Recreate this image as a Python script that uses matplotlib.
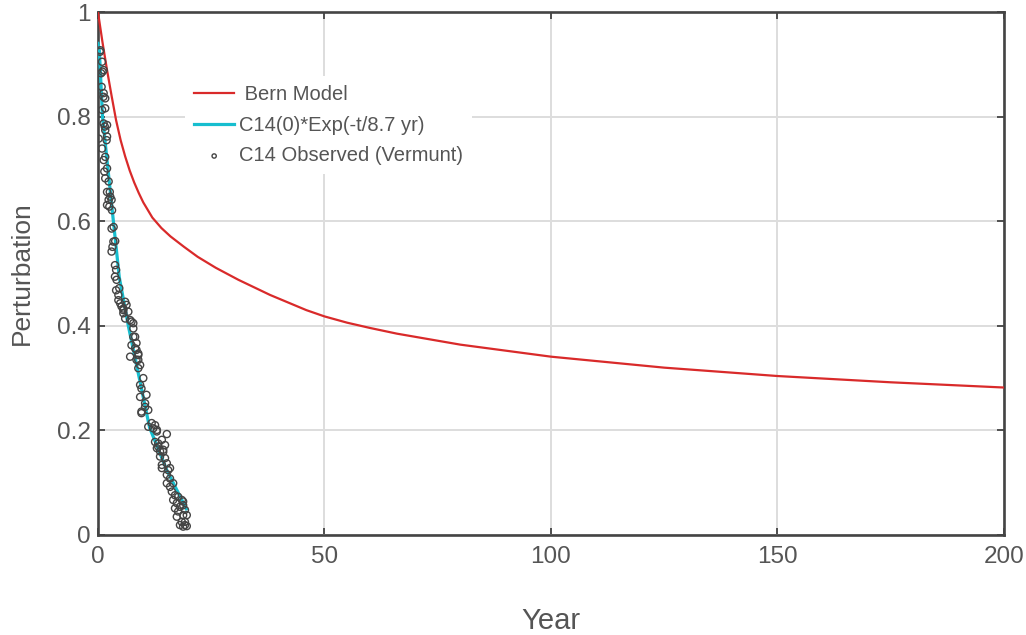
import matplotlib
matplotlib.use("Agg")
import matplotlib.pyplot as plt

plt.rcParams['font.family'] = ['Liberation Sans', 'DejaVu Sans']

# Bern model curve
bern_t = [0, 1, 2, 3, 4, 5, 6, 7, 8, 9, 10, 12, 14, 16, 19, 22, 26, 31, 38, 46, 50,
          55, 60, 66, 80, 100, 125, 150, 175, 200]
bern_v = [1.0, 0.942, 0.889, 0.840, 0.793, 0.755, 0.724, 0.697, 0.674, 0.654, 0.636,
          0.607, 0.587, 0.571, 0.551, 0.532, 0.511, 0.488, 0.459, 0.430, 0.418,
          0.406, 0.396, 0.385, 0.364, 0.341, 0.320, 0.304, 0.292, 0.282]

# exponential fit line
fit_t = [0, 0.3, 1.0, 2.2, 3.4, 4.7, 6.7, 9.0, 11.4, 15.2, 19.5]
fit_v = [0.94, 0.927, 0.80, 0.70, 0.60, 0.493, 0.40, 0.305, 0.205, 0.124, 0.05]

# observed C14 points
obs_t = [0.5, 0.9, 1.25, 0.7, 1.25, 1.6, 0.9, 1.6, 1.25, 2.0, 1.6, 2.0,
         0.15, 0.9, 1.6, 1.25, 2.0, 1.6, 2.35, 2.0, 2.7, 2.35, 2.0, 3.1, 3.45, 3.8,
         0.44, 0.8, 1.0, 1.2, 1.5, 1.9, 1.4, 2.6, 3.0, 2.5, 3.0, 3.2,
         3.4, 3.0, 3.75, 4.0, 3.75, 4.1, 4.0, 4.5, 4.5, 4.9, 5.2, 5.6, 6.0, 6.3,
         5.6, 6.7, 6.0, 7.4, 7.8, 7.8,
         4.7, 5.6, 7.1, 7.8, 8.2, 8.5, 8.9, 9.3, 8.9,
         8.2, 7.4, 8.5, 8.9, 7.1, 8.5, 8.9, 10.0, 9.3, 9.6, 9.3, 10.7, 10.4, 9.6,
         11.1, 11.85, 12.6, 12.2, 13.0, 15.2, 9.6, 10.4, 11.1,
         13.0, 12.6, 13.3, 14.1, 14.8, 13.0, 14.4, 13.7, 14.8, 14.1, 15.2, 15.5,
         14.1, 15.2, 15.9, 15.2, 15.9, 16.3, 17.0, 16.6, 17.7, 17.4, 18.5, 17.0,
         18.1, 18.8, 17.7, 19.2, 18.8, 17.4, 19.6, 18.5, 19.2, 18.1, 19.2,
         13.3, 13.7, 14.4, 15.9, 16.6, 18.8, 19.6, 18.8]
obs_v = [0.927, 0.905, 0.889, 0.883, 0.845, 0.835, 0.813, 0.816, 0.787, 0.784, 0.774, 0.762,
         0.758, 0.739, 0.723, 0.717, 0.701, 0.682, 0.676, 0.656, 0.647, 0.641, 0.631, 0.621,
         0.589, 0.562,
         0.924, 0.857, 0.886, 0.838, 0.781, 0.755, 0.695, 0.656, 0.641, 0.628, 0.586, 0.551,
         0.561, 0.542, 0.516, 0.507, 0.494, 0.488, 0.468, 0.459, 0.449, 0.443, 0.437, 0.430,
         0.446, 0.440, 0.424, 0.427, 0.414, 0.408, 0.395, 0.379,
         0.472, 0.433, 0.411, 0.405, 0.379, 0.367, 0.347, 0.325, 0.319,
         0.357, 0.363, 0.354, 0.344, 0.341, 0.335, 0.335, 0.300, 0.287, 0.280, 0.264, 0.268,
         0.252, 0.236, 0.239, 0.214, 0.210, 0.204, 0.198, 0.193, 0.233, 0.245, 0.207,
         0.201, 0.178, 0.175, 0.182, 0.172, 0.166, 0.159, 0.150, 0.147, 0.134, 0.137, 0.124,
         0.128, 0.115, 0.108, 0.099, 0.092, 0.083, 0.076, 0.067, 0.073, 0.061, 0.067, 0.051,
         0.054, 0.057, 0.045, 0.048, 0.038, 0.035, 0.038, 0.025, 0.025, 0.019, 0.019,
         0.169, 0.160, 0.163, 0.128, 0.099, 0.064, 0.017, 0.016]

x_ticks = [0, 50, 100, 150, 200]
x_labels = ['0', '50', '100', '150', '200']
y_ticks = [0, 0.2, 0.4, 0.6, 0.8, 1.0]
y_labels = ['0', '0.2', '0.4', '0.6', '0.8', '1']

gray = '#555555'

fig = plt.figure(figsize=(10.26, 6.35), dpi=100)
ax = fig.add_axes([0.0955, 0.1575, 0.883, 0.8235])

ax.plot(bern_t, bern_v, color='#d92a2a', lw=1.6, label=' Bern Model', zorder=3)
ax.plot(fit_t, fit_v, color='#17becf', lw=2.3, label='C14(0)*Exp(-t/8.7 yr)', zorder=4)
ax.scatter(obs_t, obs_v, s=26, facecolors='none', edgecolors='#444444', linewidths=1.0,
           label='C14 Observed (Vermunt)', zorder=5)

ax.set_xlim(0, 200)
ax.set_ylim(0, 1)
ax.set_xticks(x_ticks)
ax.set_xticklabels(x_labels)
ax.set_yticks(y_ticks)
ax.set_yticklabels(y_labels)

ax.grid(True, color='#dddddd', lw=1.4, zorder=0)
ax.set_axisbelow(True)
for s in ax.spines.values():
    s.set_color('#444444')
    s.set_linewidth(1.9)

ax.tick_params(direction='in', length=5, width=1.3, color='#444444',
               labelsize=17.5, labelcolor=gray, top=True, right=True)
ax.tick_params(axis='x', pad=8)
ax.tick_params(axis='y', pad=5)

ax.set_xlabel('Year', fontsize=21, color=gray, labelpad=28)
ax.set_ylabel('Perturbation', fontsize=19, color=gray, labelpad=17)

leg = ax.legend(loc='upper left', bbox_to_anchor=(0.096, 0.878), borderaxespad=0,
                frameon=True, fancybox=False, edgecolor='none', facecolor='white',
                framealpha=1, fontsize=14.5, handlelength=2.0, handletextpad=0.25,
                borderpad=0.45, labelspacing=0.58, markerscale=0.6)
for t in leg.get_texts():
    t.set_color(gray)

fig.savefig('out.png', dpi=100)
